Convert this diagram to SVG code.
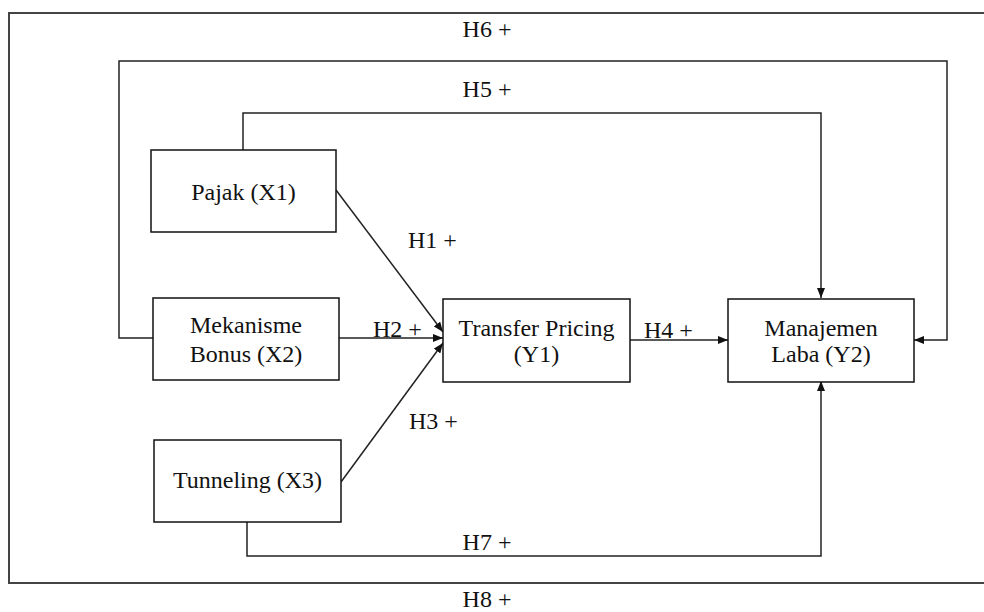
<svg xmlns="http://www.w3.org/2000/svg" width="984" height="612" viewBox="0 0 984 612">
<style>
text{font-family:"Liberation Serif","Times New Roman",serif;font-size:24px;fill:#111;}
.c{text-anchor:middle;}
.box{fill:#fff;stroke:#111;stroke-width:1.5;}
.ln{fill:none;stroke:#222;stroke-width:1.5;}
.fr{fill:none;stroke:#444;stroke-width:2;}
</style>
<defs>
<marker id="ah" markerUnits="userSpaceOnUse" markerWidth="10" markerHeight="8" refX="10" refY="4" orient="auto">
<path d="M0,0 L10,4 L0,8 z" fill="#111"/>
</marker>
</defs>
<rect width="984" height="612" fill="#fff"/>
<path class="fr" d="M984,13 H9 V583 H984"/>
<g id="connectors">
<path class="ln" d="M153,338 H119 V61 H947 V340 H914" marker-end="url(#ah)"/>
<path class="ln" d="M243,150 V113 H821 V298" marker-end="url(#ah)"/>
<path class="ln" d="M247,522 V556 H821 V381" marker-end="url(#ah)"/>
<path class="ln" d="M336,190 L443,332" marker-end="url(#ah)"/>
<path class="ln" d="M339,338 H443" marker-end="url(#ah)"/>
<path class="ln" d="M341,482 L443,343" marker-end="url(#ah)"/>
<path class="ln" d="M630,340 H728" marker-end="url(#ah)"/>
</g>
<g id="labels">
<text x="487" y="37" class="c">H6 +</text>
<text x="487" y="97" class="c">H5 +</text>
<text x="408" y="248">H1 +</text>
<text x="373" y="337">H2 +</text>
<text x="409" y="429">H3 +</text>
<text x="644" y="338">H4 +</text>
<text x="487" y="550" class="c">H7 +</text>
<text x="487" y="607" class="c">H8 +</text>
</g>
<g id="pajak">
<rect class="box" x="151" y="150" width="185" height="82"/>
<text x="243.5" y="200" class="c">Pajak (X1)</text>
</g>
<g id="bonus">
<rect class="box" x="153" y="298" width="186" height="82"/>
<text x="246" y="333" class="c">Mekanisme</text>
<text x="246" y="362" class="c">Bonus (X2)</text>
</g>
<g id="tunneling">
<rect class="box" x="154" y="440" width="187" height="82"/>
<text x="247.5" y="488" class="c">Tunneling (X3)</text>
</g>
<g id="transfer">
<rect class="box" x="443" y="299" width="187" height="83"/>
<text x="536.5" y="336" class="c">Transfer Pricing</text>
<text x="536.5" y="362" class="c">(Y1)</text>
</g>
<g id="manajemen">
<rect class="box" x="728" y="299" width="186" height="83"/>
<text x="821" y="336" class="c">Manajemen</text>
<text x="821" y="362" class="c">Laba (Y2)</text>
</g>
</svg>
